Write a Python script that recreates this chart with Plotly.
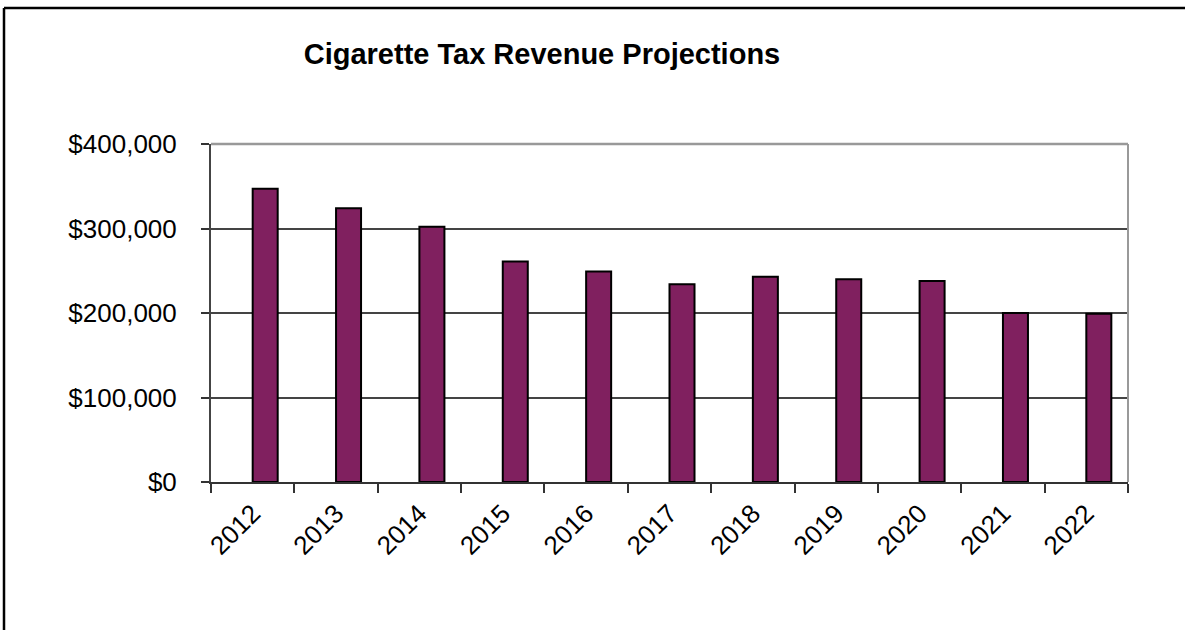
import plotly.graph_objects as go

# Projected cigarette tax revenue by fiscal year
years = ["2012", "2013", "2014", "2015", "2016", "2017",
         "2018", "2019", "2020", "2021", "2022"]
revenue = [347000, 324000, 302000, 261000, 249000, 234000,
           243000, 240000, 238000, 200000, 199000]
y_ticks = [0, 100000, 200000, 300000, 400000]
y_tick_text = ["$0", "$100,000", "$200,000", "$300,000", "$400,000"]

W, H = 1185, 630
ML, MR, MT, MB = 211, 57, 144, 148
PW, PH = W - ML - MR, H - MT - MB


def px_to_paper_x(px):
    return (px - ML) / PW


def px_to_paper_y(py):
    return (H - MB - py) / PH


FONT = "Liberation Sans, Arial, sans-serif"
BAR_COLOR = "#80205F"

fig = go.Figure(
    go.Bar(
        x=years,
        y=revenue,
        offset=0,
        width=0.3,
        marker=dict(color=BAR_COLOR, line=dict(color="#000000", width=2)),
        hoverinfo="x+y",
    )
)

fig.update_layout(
    width=W,
    height=H,
    margin=dict(l=ML, r=MR, t=MT, b=MB, pad=0),
    paper_bgcolor="white",
    plot_bgcolor="white",
    showlegend=False,
    font=dict(family=FONT, color="#000000", size=26),
    title=dict(
        text="<b>Cigarette Tax Revenue Projections</b>",
        font=dict(family=FONT, size=29, color="#000000"),
        x=px_to_paper_x(542),
        xref="paper",
        xanchor="center",
        y=1 - 54 / H,
        yref="container",
        yanchor="middle",
    ),
    xaxis=dict(
        type="category",
        tickangle=-45,
        tickson="boundaries",
        ticks="outside",
        ticklen=9,
        tickwidth=1.5,
        tickcolor="#333333",
        showgrid=False,
        showline=True,
        linecolor="#333333",
        linewidth=2,
        ticklabelstandoff=4,
        tickfont=dict(family=FONT, size=26, color="#000000"),
        range=[-0.5, len(years) - 0.5],
        fixedrange=True,
    ),
    yaxis=dict(
        range=[0, 400000],
        tickvals=y_ticks,
        ticktext=y_tick_text,
        ticks="outside",
        ticklen=8,
        tickwidth=1.5,
        tickcolor="#333333",
        showgrid=True,
        gridcolor="#444444",
        gridwidth=1.5,
        showline=True,
        linecolor="#444444",
        linewidth=2,
        zeroline=False,
        ticklabelstandoff=19,
        tickfont=dict(family=FONT, size=26, color="#000000"),
        fixedrange=True,
    ),
    shapes=[
        # plot area frame on the top and right edges
        dict(type="line", xref="paper", yref="paper", x0=0, x1=1, y0=1, y1=1,
             line=dict(color="#999999", width=2.5), layer="above"),
        dict(type="line", xref="paper", yref="paper", x0=1, x1=1, y0=0, y1=1,
             line=dict(color="#999999", width=2), layer="above"),
        # chart border (top and left edges visible)
        dict(type="line", xref="paper", yref="paper",
             x0=px_to_paper_x(4), x1=px_to_paper_x(W + 20),
             y0=px_to_paper_y(8), y1=px_to_paper_y(8),
             line=dict(color="#000000", width=2.5)),
        dict(type="line", xref="paper", yref="paper",
             x0=px_to_paper_x(4), x1=px_to_paper_x(4),
             y0=px_to_paper_y(8), y1=px_to_paper_y(H + 20),
             line=dict(color="#000000", width=2.5)),
    ],
)

fig.write_html("out.html", config={"displayModeBar": False})
